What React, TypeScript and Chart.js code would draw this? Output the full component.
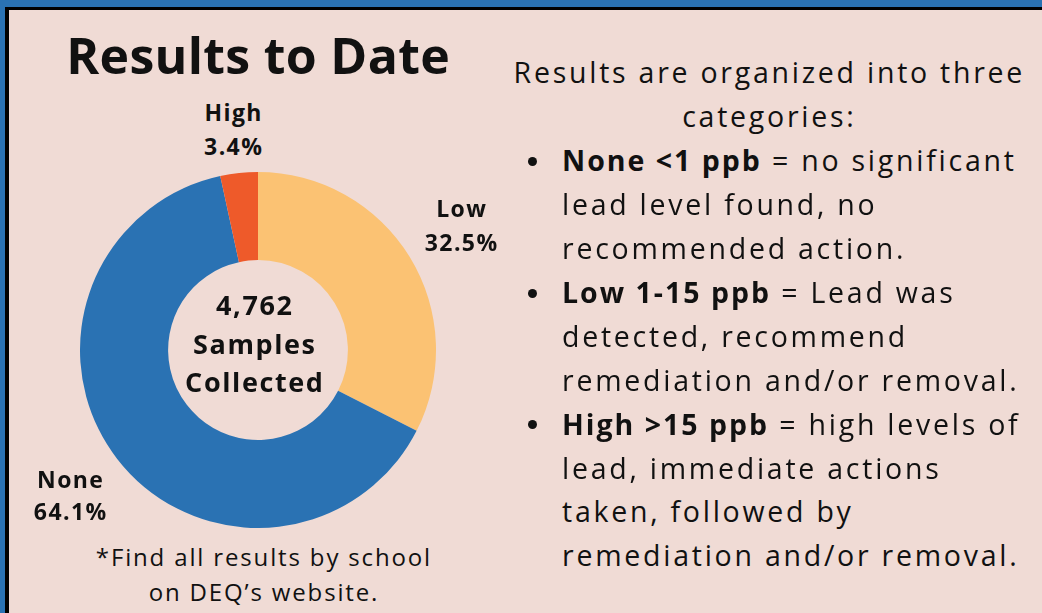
import React, { useEffect, useRef } from "react";
import { Chart, registerables } from "chart.js";

Chart.register(...registerables);

const categories = ["Low", "None", "High"];
const shares = [32.5, 64.1, 3.4];
const sliceColors = ["#fbc273", "#2a72b3", "#ee5a2a"];
const totalSamples = "4,762";
const centerLines = [totalSamples, "Samples", "Collected"];
const titleText = "Results to Date";
const introLines = ["Results are organized into three", "categories:"];
const bullets = [
  { bold: "None <1 ppb", lines: [" = no significant", "lead level found, no", "recommended action."] },
  { bold: "Low 1-15 ppb", lines: [" = Lead was", "detected, recommend", "remediation and/or removal."] },
  { bold: "High >15 ppb", lines: [" = high levels of", "lead, immediate actions", "taken, followed by", "remediation and/or removal."] },
];
const footLines = ["*Find all results by school", "on DEQ\u2019s website."];

const FONT = "'Open Sans', 'Noto Sans', sans-serif";
const BG = "#f0dbd5";

function Line(props: { cx?: number; left?: number; cy: number; size: number; weight?: number; lh?: number; ls?: number; children: React.ReactNode }) {
  const lh = props.lh ?? props.size * 1.3;
  const style: React.CSSProperties = {
    position: "absolute",
    top: props.cy - lh / 2,
    height: lh,
    lineHeight: lh + "px",
    fontSize: props.size,
    fontWeight: props.weight ?? 400,
    fontFamily: FONT,
    whiteSpace: "nowrap",
    color: "#111",
    letterSpacing: props.ls ?? 0,
  };
  if (props.cx !== undefined) {
    style.left = props.cx - 400 + (props.ls ?? 0) / 2;
    style.width = 800;
    style.textAlign = "center";
  } else {
    style.left = props.left;
  }
  return <div style={style}>{props.children}</div>;
}

export default function App() {
  const ref = useRef<HTMLCanvasElement | null>(null);
  useEffect(() => {
    if (!ref.current) return;
    const chart = new Chart(ref.current, {
      type: "doughnut",
      data: {
        labels: categories,
        datasets: [
          {
            data: shares,
            backgroundColor: sliceColors,
            borderWidth: 0,
          },
        ],
      },
      options: {
        responsive: false,
        animation: false,
        cutout: "50.5%",
        layout: { padding: 0 },
        plugins: { legend: { display: false }, tooltip: { enabled: false } },
      },
    });
    return () => chart.destroy();
  }, []);

  const lineH = 43.9;
  const firstY = 73;
  const bodySize = 28.5;
  const bodyLs = 2.75;
  let row = introLines.length;
  const bulletRows: React.ReactNode[] = [];
  bullets.forEach((b, bi) => {
    b.lines.forEach((ln, li) => {
      const cy = firstY + row * lineH;
      bulletRows.push(
        <Line key={bi + "-" + li} left={562} cy={cy} size={bodySize} ls={bodyLs}>
          {li === 0 ? (
            <>
              <span style={{ fontWeight: 700, letterSpacing: 2.0 }}>{b.bold}</span>
              {ln}
            </>
          ) : (
            ln
          )}
        </Line>
      );
      if (li === 0) {
        bulletRows.push(
          <div
            key={"dot" + bi}
            style={{ position: "absolute", left: 528, top: cy - 4, width: 9, height: 9, borderRadius: "50%", background: "#111" }}
          />
        );
      }
      row++;
    });
  });

  return (
    <div style={{ position: "absolute", left: 0, top: 0, width: 1042, height: 613, overflow: "hidden", background: "#2a72b3" }}>
      <div style={{ position: "absolute", left: 5, top: 7, width: 1100, height: 700, background: "#000" }} />
      <div style={{ position: "absolute", left: 9, top: 10, width: 1100, height: 700, background: BG }} />
      <Line cx={258} cy={55} size={50} weight={700} ls={0.3}>{titleText}</Line>
      <canvas ref={ref} width={356} height={356} style={{ position: "absolute", left: 80, top: 172, width: 356, height: 356 }} />
      <Line cx={233} cy={113} size={23} weight={700} ls={1.4}>{categories[2]}</Line>
      <Line cx={233} cy={147} size={23} weight={700} ls={1.4}>{shares[2]}%</Line>
      <Line cx={461} cy={209} size={23} weight={700} ls={1.4}>{categories[0]}</Line>
      <Line cx={461} cy={243} size={23} weight={700} ls={1.4}>{shares[0]}%</Line>
      <Line cx={70} cy={480} size={23} weight={700} ls={1.4}>{categories[1]}</Line>
      <Line cx={70} cy={512} size={23} weight={700} ls={1.4}>{shares[1]}%</Line>
      {centerLines.map((t, i) => (
        <Line key={t} cx={254} cy={305 + i * 38.5} size={27} weight={700} ls={1.6}>{t}</Line>
      ))}
      {introLines.map((t, i) => (
        <Line key={t} cx={768} cy={firstY + i * lineH} size={bodySize} ls={bodyLs}>{t}</Line>
      ))}
      {bulletRows}
      {footLines.map((t, i) => (
        <Line key={t} cx={263} cy={557 + i * 35} size={24} ls={1.85}>{t}</Line>
      ))}
    </div>
  );
}
